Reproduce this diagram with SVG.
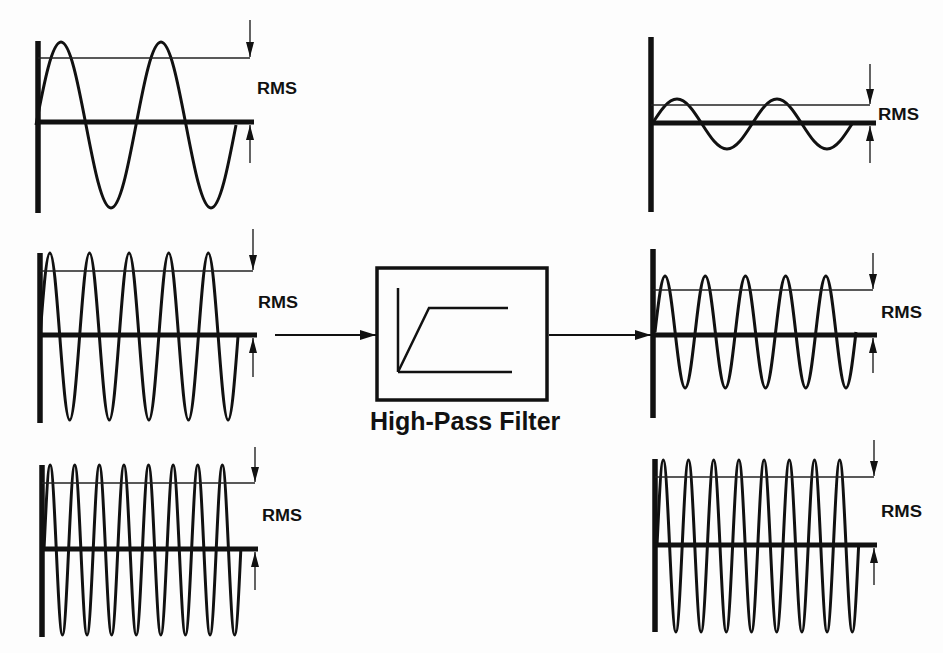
<svg xmlns="http://www.w3.org/2000/svg" width="943" height="653" viewBox="0 0 943 653">
<style>
.bg{fill:#fdfdfd}
.wave{fill:none;stroke:#111;stroke-width:3;vector-effect:non-scaling-stroke;stroke-linejoin:round}
.axis{stroke:#111;stroke-width:5.5;fill:none}
.base{stroke:#111;stroke-width:5;fill:none}
.rms{stroke:#222;stroke-width:1.4;fill:none}
.arr{stroke:#222;stroke-width:1.4;fill:none;marker-end:url(#ah)}
.flow{stroke:#111;stroke-width:2;fill:none;marker-end:url(#fh)}
.lbl{font-family:"Liberation Sans",Arial,sans-serif;font-weight:bold;font-size:16px;fill:#111}
.title{font-family:"Liberation Sans",Arial,sans-serif;font-weight:bold;font-size:25px;fill:#111}
.box{fill:none;stroke:#111;stroke-width:3.5}
.curve{fill:none;stroke:#111;stroke-width:2.5}
</style>
<defs>
<marker id="ah" markerUnits="userSpaceOnUse" markerWidth="15" markerHeight="9" refX="15" refY="4.5" orient="auto">
<path d="M0,0.5 L15,4.5 L0,8.5 z" fill="#111"/>
</marker>
<marker id="fh" markerUnits="userSpaceOnUse" markerWidth="16" markerHeight="11" refX="16" refY="5.5" orient="auto">
<path d="M0,0.5 L16,5.5 L0,10.5 z" fill="#111"/>
</marker>
</defs>
<rect class="bg" x="0" y="0" width="943" height="653"/>

<g id="in-low">
<path class="wave" transform="translate(36,125) scale(25,83)" d="M0 0 C0.3261 -0.5123 0.6381 -1 1 -1 S1.6739 -0.5123 2 0 S2.6381 1 3 1 S3.6739 0.5123 4 0 S4.6381 -1 5 -1 S5.6739 -0.5123 6 0 S6.6381 1 7 1 S7.6739 0.5123 8 0"/>
<line class="axis" x1="38" y1="41" x2="38" y2="213"/>
<line class="base" x1="38" y1="122" x2="254" y2="122"/>
<line class="rms" x1="38" y1="58" x2="250" y2="58"/>
<line class="arr" x1="250" y1="20" x2="250" y2="57"/>
<line class="arr" x1="250" y1="163" x2="250" y2="125"/>
<text class="lbl" x="257" y="94" textLength="40" lengthAdjust="spacingAndGlyphs">RMS</text>
</g>

<g id="in-mid">
<path class="wave" transform="translate(40,336.5) scale(9.9,83.5)" d="M0 0 C0.3261 -0.5123 0.6381 -1 1 -1 S1.6739 -0.5123 2 0 S2.6381 1 3 1 S3.6739 0.5123 4 0 S4.6381 -1 5 -1 S5.6739 -0.5123 6 0 S6.6381 1 7 1 S7.6739 0.5123 8 0 S8.6381 -1 9 -1 S9.6739 -0.5123 10 0 S10.6381 1 11 1 S11.6739 0.5123 12 0 S12.6381 -1 13 -1 S13.6739 -0.5123 14 0 S14.6381 1 15 1 S15.6739 0.5123 16 0 S16.6381 -1 17 -1 S17.6739 -0.5123 18 0 S18.6381 1 19 1 S19.6739 0.5123 20 0"/>
<line class="axis" x1="40" y1="253" x2="40" y2="423"/>
<line class="base" x1="40" y1="335" x2="257" y2="335"/>
<line class="rms" x1="40" y1="271" x2="253" y2="271"/>
<line class="arr" x1="253" y1="229" x2="253" y2="270"/>
<line class="arr" x1="253" y1="377" x2="253" y2="338"/>
<text class="lbl" x="258" y="308" textLength="40" lengthAdjust="spacingAndGlyphs">RMS</text>
</g>

<g id="in-high">
<path class="wave" transform="translate(44,550) scale(6.15,85)" d="M0 0 C0.3261 -0.5123 0.6381 -1 1 -1 S1.6739 -0.5123 2 0 S2.6381 1 3 1 S3.6739 0.5123 4 0 S4.6381 -1 5 -1 S5.6739 -0.5123 6 0 S6.6381 1 7 1 S7.6739 0.5123 8 0 S8.6381 -1 9 -1 S9.6739 -0.5123 10 0 S10.6381 1 11 1 S11.6739 0.5123 12 0 S12.6381 -1 13 -1 S13.6739 -0.5123 14 0 S14.6381 1 15 1 S15.6739 0.5123 16 0 S16.6381 -1 17 -1 S17.6739 -0.5123 18 0 S18.6381 1 19 1 S19.6739 0.5123 20 0 S20.6381 -1 21 -1 S21.6739 -0.5123 22 0 S22.6381 1 23 1 S23.6739 0.5123 24 0 S24.6381 -1 25 -1 S25.6739 -0.5123 26 0 S26.6381 1 27 1 S27.6739 0.5123 28 0 S28.6381 -1 29 -1 S29.6739 -0.5123 30 0 S30.6381 1 31 1 S31.6739 0.5123 32 0"/>
<line class="axis" x1="42" y1="465" x2="42" y2="637"/>
<line class="base" x1="42" y1="549" x2="258" y2="549"/>
<line class="rms" x1="42" y1="483" x2="255" y2="483"/>
<line class="arr" x1="255" y1="447" x2="255" y2="482"/>
<line class="arr" x1="255" y1="590" x2="255" y2="552"/>
<text class="lbl" x="262" y="521" textLength="40" lengthAdjust="spacingAndGlyphs">RMS</text>
</g>

<g id="filter">
<rect class="box" x="377" y="268" width="170" height="132"/>
<line class="curve" x1="398" y1="288" x2="398" y2="372"/>
<line class="curve" x1="398" y1="372" x2="512" y2="372"/>
<polyline class="curve" points="398,372 429,308 508,308"/>
<text class="title" x="370" y="430">High-Pass Filter</text>
</g>

<g id="out-low">
<path class="wave" transform="translate(652,124) scale(25,25)" d="M0 0 C0.3261 -0.5123 0.6381 -1 1 -1 S1.6739 -0.5123 2 0 S2.6381 1 3 1 S3.6739 0.5123 4 0 S4.6381 -1 5 -1 S5.6739 -0.5123 6 0 S6.6381 1 7 1 S7.6739 0.5123 8 0"/>
<line class="axis" x1="651" y1="37" x2="651" y2="212"/>
<line class="base" x1="651" y1="123" x2="876" y2="123"/>
<line class="rms" x1="651" y1="105" x2="870" y2="105"/>
<line class="arr" x1="870" y1="64" x2="870" y2="104"/>
<line class="arr" x1="870" y1="163" x2="870" y2="126"/>
<text class="lbl" x="878" y="120" textLength="41" lengthAdjust="spacingAndGlyphs">RMS</text>
</g>

<g id="out-mid">
<path class="wave" transform="translate(655,332) scale(10.05,56)" d="M0 0 C0.3261 -0.5123 0.6381 -1 1 -1 S1.6739 -0.5123 2 0 S2.6381 1 3 1 S3.6739 0.5123 4 0 S4.6381 -1 5 -1 S5.6739 -0.5123 6 0 S6.6381 1 7 1 S7.6739 0.5123 8 0 S8.6381 -1 9 -1 S9.6739 -0.5123 10 0 S10.6381 1 11 1 S11.6739 0.5123 12 0 S12.6381 -1 13 -1 S13.6739 -0.5123 14 0 S14.6381 1 15 1 S15.6739 0.5123 16 0 S16.6381 -1 17 -1 S17.6739 -0.5123 18 0 S18.6381 1 19 1 S19.6739 0.5123 20 0"/>
<line class="axis" x1="653" y1="249" x2="653" y2="418"/>
<line class="base" x1="653" y1="335" x2="877" y2="335"/>
<line class="rms" x1="653" y1="290" x2="873" y2="290"/>
<line class="arr" x1="873" y1="253" x2="873" y2="289"/>
<line class="arr" x1="873" y1="373" x2="873" y2="338"/>
<text class="lbl" x="881" y="318" textLength="41" lengthAdjust="spacingAndGlyphs">RMS</text>
</g>

<g id="out-high">
<path class="wave" transform="translate(657,546) scale(6.3,86)" d="M0 0 C0.3261 -0.5123 0.6381 -1 1 -1 S1.6739 -0.5123 2 0 S2.6381 1 3 1 S3.6739 0.5123 4 0 S4.6381 -1 5 -1 S5.6739 -0.5123 6 0 S6.6381 1 7 1 S7.6739 0.5123 8 0 S8.6381 -1 9 -1 S9.6739 -0.5123 10 0 S10.6381 1 11 1 S11.6739 0.5123 12 0 S12.6381 -1 13 -1 S13.6739 -0.5123 14 0 S14.6381 1 15 1 S15.6739 0.5123 16 0 S16.6381 -1 17 -1 S17.6739 -0.5123 18 0 S18.6381 1 19 1 S19.6739 0.5123 20 0 S20.6381 -1 21 -1 S21.6739 -0.5123 22 0 S22.6381 1 23 1 S23.6739 0.5123 24 0 S24.6381 -1 25 -1 S25.6739 -0.5123 26 0 S26.6381 1 27 1 S27.6739 0.5123 28 0 S28.6381 -1 29 -1 S29.6739 -0.5123 30 0 S30.6381 1 31 1 S31.6739 0.5123 32 0"/>
<line class="axis" x1="655" y1="459" x2="655" y2="632"/>
<line class="base" x1="655" y1="545" x2="877" y2="545"/>
<line class="rms" x1="655" y1="477" x2="874" y2="477"/>
<line class="arr" x1="874" y1="440" x2="874" y2="476"/>
<line class="arr" x1="874" y1="585" x2="874" y2="548"/>
<text class="lbl" x="881" y="517" textLength="41" lengthAdjust="spacingAndGlyphs">RMS</text>
</g>

<g id="connectors">
<line class="flow" x1="275" y1="335" x2="376" y2="335"/>
<line class="flow" x1="549" y1="335" x2="651" y2="335"/>
</g>
</svg>
